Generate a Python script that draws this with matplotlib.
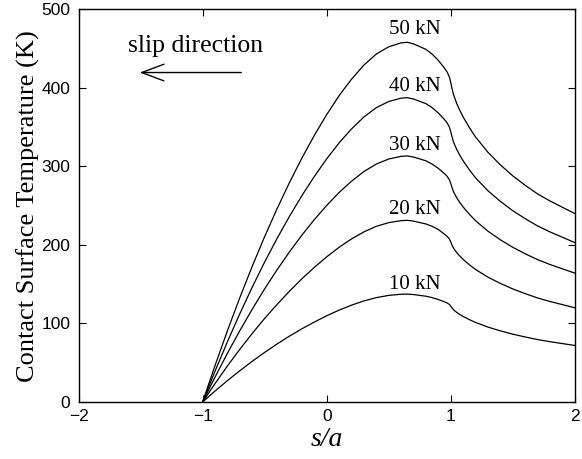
import matplotlib
matplotlib.use("Agg")
import matplotlib.pyplot as plt

# Position s/a (shared grid)
s_over_a = [-1.0, -0.95, -0.9, -0.8, -0.7, -0.6, -0.5, -0.4, -0.3, -0.2, -0.1, 0.0,
            0.1, 0.2, 0.3, 0.4, 0.5, 0.6, 0.65, 0.7, 0.8, 0.85, 0.9,
            0.95, 0.97, 0.99, 1.0, 1.01, 1.02, 1.03, 1.05, 1.07, 1.1, 1.15, 1.2,
            1.3, 1.4, 1.5, 1.6, 1.7, 1.8, 1.9, 2.0]

temp_50kN = [0, 23.6, 46.6, 91.0, 133.1, 173.0, 210.8, 246.2, 279.5, 310.6, 339.4, 366,
             390, 411, 429, 443, 452.3, 457.3, 458, 456, 449, 443, 435,
             425, 420.5, 413.5, 407, 399.5, 393, 388, 379.5, 372.5, 363, 349.5, 337.5,
             318, 302, 288, 276, 265, 256, 248, 240]
temp_40kN = [0, 20.0, 39.4, 77.0, 112.6, 146.4, 178.4, 208.3, 236.5, 262.8, 287.1, 309.6,
             329.9, 347.7, 362.9, 374.8, 382.6, 386.9, 387.5, 385.8, 379.9, 374.8, 368.0,
             359.6, 355.7, 349.8, 344.3, 338.0, 332.5, 328.2, 321.1, 315.1, 307.1, 295.7, 285.5,
             269.0, 255.5, 243.6, 233.5, 224.2, 216.6, 209.8, 203.0]
temp_30kN = [0, 16.1, 31.9, 62.2, 91.0, 118.3, 144.2, 168.4, 191.2, 212.5, 232.2, 250.3,
             266.8, 281.1, 293.4, 303.0, 309.4, 312.8, 313.3, 311.9, 307.1, 303.0, 297.5,
             290.7, 287.6, 282.8, 278.4, 273.3, 268.8, 265.4, 259.6, 254.8, 248.3, 239.1, 230.9,
             217.5, 206.6, 197.0, 188.8, 181.3, 175.1, 169.6, 164.2]
temp_20kN = [0, 11.9, 23.5, 46.0, 67.2, 87.4, 106.5, 124.3, 141.1, 156.9, 171.4, 184.8,
             197.0, 207.6, 216.6, 223.7, 228.4, 230.9, 231.3, 230.3, 226.7, 223.7, 219.7,
             213.5, 211.0, 207.5, 204.0, 200.0, 196.7, 194.2, 189.9, 186.4, 181.6, 174.8, 168.8,
             159.0, 151.0, 144.0, 138.0, 132.5, 128.0, 124.0, 120.0]
temp_10kN = [0, 7.1, 14.0, 27.3, 39.9, 51.9, 63.2, 73.9, 83.9, 93.2, 101.8, 109.8,
             117.0, 123.3, 128.7, 132.9, 135.7, 137.2, 137.4, 136.8, 134.7, 132.9, 130.5,
             127.5, 126.2, 124.1, 122.1, 119.9, 117.9, 116.4, 113.9, 111.8, 108.9, 104.9, 101.3,
             95.4, 90.6, 86.4, 82.8, 79.5, 76.8, 74.4, 72.0]

load_labels = ["10 kN", "20 kN", "30 kN", "40 kN", "50 kN"]
series = [temp_10kN, temp_20kN, temp_30kN, temp_40kN, temp_50kN]
label_pos = [(0.71, 150), (0.71, 245), (0.71, 327), (0.71, 402), (0.71, 474)]

x_ticks = [-2, -1, 0, 1, 2]
y_ticks = [0, 100, 200, 300, 400, 500]

serif = ["Liberation Serif", "DejaVu Serif"]
sans = ["Liberation Sans", "DejaVu Sans"]

fig = plt.figure(figsize=(5.82, 4.59), dpi=100)
ax = fig.add_axes([0.1352, 0.1242, 0.8523, 0.8555])

for vals in series:
    ax.plot(s_over_a, vals, color="black", lw=0.9)

for lab, (lx, ly) in zip(load_labels, label_pos):
    ax.text(lx, ly, lab, ha="center", va="center", fontsize=15, family=serif)

ax.text(-1.60, 453, "slip direction", ha="left", va="center", fontsize=18.5, family=serif)
ax.annotate("", xy=(-1.53, 419.5), xytext=(-0.667, 419.5),
            arrowprops=dict(arrowstyle="->,head_length=1.6,head_width=0.6", lw=1.0, color="black"))

ax.set_xlim(-2, 2)
ax.set_ylim(0, 500)
ax.set_xticks(x_ticks)
ax.set_yticks(y_ticks)
ax.set_xticklabels([("\u2212%d" % abs(t)) if t < 0 else "%d" % t for t in x_ticks], family=sans, fontsize=12.5)
ax.set_yticklabels(["%d" % t for t in y_ticks], family=sans, fontsize=12.5)
ax.tick_params(direction="in", top=True, right=True, length=5, width=0.8)
ax.tick_params(axis="x", pad=5)
ax.tick_params(axis="y", pad=6)
for sp in ax.spines.values():
    sp.set_linewidth(1.0)

ax.set_xlabel("s/a", fontsize=20, family=serif, style="italic", labelpad=2)
ax.set_ylabel("Contact Surface Temperature (K)", fontsize=19, family=serif, labelpad=1)

fig.savefig("out.png", dpi=100)
